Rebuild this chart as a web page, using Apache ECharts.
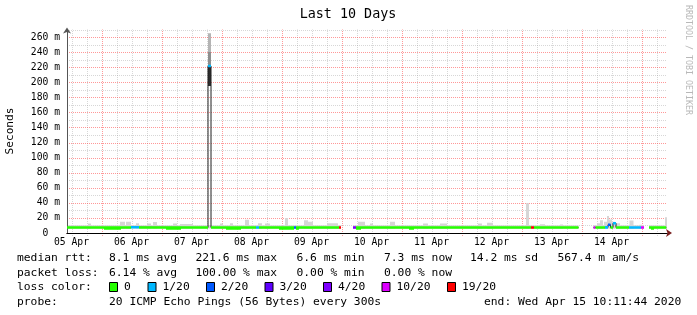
<!DOCTYPE html>
<html><head><meta charset="utf-8">
<script src="https://cdn.jsdelivr.net/npm/echarts@6/dist/echarts.min.js"></script>
<style>html,body{margin:0;padding:0;background:#fff}#c{width:697px;height:315px}</style>
</head><body><div id="c"></div>
<script>
// time axis: hours after 05 Apr 00:00
const START = 10.1956;   // 05 Apr 10:11:44
const END = 250.1956;    // 15 Apr 10:11:44
const dayLabels = ['05 Apr','06 Apr','07 Apr','08 Apr','09 Apr','10 Apr','11 Apr','12 Apr','13 Apr','14 Apr'];
const yTickValues = [0,20,40,60,80,100,120,140,160,180,200,220,240,260];
const yTickLabels = ['  0  ',' 20 m',' 40 m',' 60 m',' 80 m','100 m','120 m','140 m','160 m','180 m','200 m','220 m','240 m','260 m'];
const lossNames = ['0','1/20','2/20','3/20','4/20','10/20','19/20'];
const lossColors = ['#26ff00','#00b8ff','#0059ff','#5e00ff','#7e00ff','#dd00ff','#ff0000'];

// median rtt segments: [startHour, endHour, median ms, loss class index]
const medianSegs = [
  [10.2, 35.8, 7.2, 0], [35.8, 39.0, 7.6, 1], [39.0, 66.6, 7.2, 0],
  [66.6, 67.8, 221.6, 1], [67.8, 85.8, 7.2, 0], [85.8, 87.0, 7.2, 1],
  [87.0, 101.0, 7.2, 0], [101.0, 101.8, 7.2, 2], [101.8, 119.0, 7.2, 0],
  [119.0, 119.8, 7.2, 6],
  [124.6, 125.8, 7.2, 4], [125.8, 195.8, 7.2, 0], [195.8, 197.0, 7.2, 6],
  [197.0, 214.8, 7.2, 0],
  [220.8, 221.6, 7.2, 5], [221.6, 225.4, 7.2, 0], [225.4, 226.6, 7.4, 1],
  [226.6, 227.6, 11.0, 2], [227.6, 228.6, 7.2, 0], [228.6, 229.8, 13.0, 1],
  [229.8, 235.0, 7.2, 0], [235.0, 239.8, 7.2, 1], [239.8, 241.0, 7.2, 5],
  [243.0, 249.9, 7.2, 0]
];
// lower median excursions: [startHour, endHour, low ms]
const medianDips = [
  [25.0, 31.8, 4.2], [49.8, 55.8, 4.2], [73.8, 79.8, 4.2], [95.0, 101.0, 4.2],
  [101.8, 103.0, 4.2], [125.8, 127.8, 4.2], [147.0, 149.0, 4.2], [243.8, 245.0, 4.2]
];
// smoke (ping spread): [startHour, endHour, top ms]
const smoke = [
  [10.2, 119.8, 10.2], [124.6, 214.8, 10.2], [220.8, 241.0, 10.2], [243.0, 250.2, 10.2],
  [18.6, 19.8, 12.7], [31.4, 33.4, 15.0], [33.8, 35.8, 15.0], [37.8, 39.0, 13.0],
  [42.2, 43.8, 12.5], [44.6, 46.2, 14.6], [52.6, 54.2, 12.5], [55.4, 60.6, 11.8],
  [71.4, 72.6, 12.5], [75.4, 76.6, 13.0], [81.4, 83.0, 17.6], [86.6, 88.2, 13.0],
  [89.4, 91.4, 12.5], [97.4, 98.6, 20.0], [105.0, 106.6, 16.8], [106.6, 108.6, 15.0],
  [114.2, 118.6, 13.0], [126.6, 129.4, 15.0], [131.4, 132.6, 12.5], [139.4, 141.4, 15.0],
  [152.6, 154.6, 12.5], [159.4, 162.2, 12.5], [174.6, 176.2, 12.5], [178.2, 180.6, 13.5],
  [193.8, 195.0, 39.4], [199.4, 201.4, 11.5], [207.4, 208.6, 11.2],
  [222.2, 223.4, 13.0], [223.4, 224.6, 17.0], [225.0, 226.2, 15.0], [226.2, 227.0, 22.5],
  [227.0, 228.2, 18.0], [228.2, 229.4, 15.0], [229.8, 231.4, 13.0], [235.2, 236.8, 16.6],
  [239.2, 240.4, 11.0], [249.4, 250.2, 21.0]
];
// spike smoke: [startHour, endHour, low ms, high ms, shade index]
const spikeSmoke = [
  [66.6, 67.8, 240, 265, 0], [66.6, 67.8, 221.6, 240, 1], [66.6, 67.8, 195, 221.6, 2]
];
const shadeColors = ['#b4b4b4', '#8e8e8e', '#2e2e2e'];

const rttLabel = 'median rtt:';
const rttStats = ['8.1 ms avg','221.6 ms max','6.6 ms min','7.3 ms now','14.2 ms sd','567.4 m am/s'];
const lossLabel = 'packet loss:';
const lossStats = ['6.14 % avg','100.00 % max','0.00 % min','0.00 % now'];
const colorLabel = 'loss color:';
const probeLabel = 'probe:';
const probeText = '20 ICMP Echo Pings (56 Bytes) every 300s';
const endText = 'end: Wed Apr 15 10:11:44 2020';

// ---------- build ----------
const FONT = '"DejaVu Sans Mono", monospace';
const minorX = [], majorX = [];
for (let h = 0; h <= 264; h += 6) {
  if (h <= START || h >= END) continue;
  if (h % 24 === 0) majorX.push(h); else minorX.push(h);
}
const labelX = dayLabels.map((_, i) => 12 + 24 * i);
const minorY = [], majorY = [];
for (let v = 10; v <= 270; v += 10) { if (v % 20 === 0) majorY.push(v); else minorY.push(v); }

const lineData = [];
medianSegs.forEach((s, i) => {
  if (i > 0 && s[0] > medianSegs[i - 1][1] + 0.01) lineData.push([(s[0] + medianSegs[i - 1][1]) / 2, '-']);
  lineData.push([s[0], s[2]], [s[1], s[2]]);
});

const MIN_C = 'rgba(150,150,150,0.38)', MAJ_C = 'rgba(255,50,50,0.5)';
function rectBetween(api, x1, x2, y1, y2, style) {
  const a = api.coord([x1, y2]);
  const b = api.coord([x2, y1]);
  return { type: 'rect', shape: { x: a[0], y: a[1], width: b[0] - a[0], height: b[1] - a[1] }, style: style };
}
function gridLines(vals, dir, color) {
  return { type: 'custom', silent: true, z: 1, xAxisIndex: 0, yAxisIndex: 0, clip: false,
    data: vals.map(v => [v]),
    renderItem: (p, api) => {
      const v = api.value(0);
      let a, b;
      if (dir === 'v') { a = api.coord([v, 0]); b = api.coord([v, 270]); const x = Math.round(a[0]) + 0.5; a = [x, a[1] + 3]; b = [x, b[1]]; }
      else { a = api.coord([START, v]); b = api.coord([END, v]); const y = Math.round(a[1]) + 0.5; a = [a[0], y]; b = [b[0], y]; }
      return { type: 'line', shape: { x1: a[0], y1: a[1], x2: b[0], y2: b[1] },
               style: { stroke: color, fill: null, lineWidth: 1, lineDash: [1, 1] } };
    } };
}

const graphics = [];
function txt(x, y, s, opt) {
  graphics.push(Object.assign({ type: 'text', x: x, y: y, style: Object.assign({ text: s, font: '11.3px ' + FONT, fill: '#000', verticalAlign: 'middle', align: 'left' }, opt || {}) }));
}
graphics.push({ type: 'text', x: 348, y: 15, style: { text: 'Last 10 Days', font: '13.4px ' + FONT, fill: '#000', align: 'center', verticalAlign: 'middle' } });
graphics.push({ type: 'text', x: 10, y: 131, rotation: Math.PI / 2, style: { text: 'Seconds', font: '11.1px ' + FONT, fill: '#000', align: 'center', verticalAlign: 'middle' } });
graphics.push({ type: 'text', x: 688, y: 5, rotation: -Math.PI / 2, style: { text: 'RRDTOOL / TOBI OETIKER', font: '8.3px ' + FONT, fill: '#b8b8b8', align: 'left', verticalAlign: 'middle' } });
const colX = [109, 195.5, 296.5, 384, 470, 557.5];
txt(17, 258.5, rttLabel);
rttStats.forEach((s, i) => txt(colX[i], 258.5, s));
txt(17, 273, lossLabel);
lossStats.forEach((s, i) => txt(colX[i], 273, s));
txt(17, 287.5, colorLabel);
const boxX = [109, 147.5, 206, 264.5, 323, 381.5, 447];
lossNames.forEach((n, i) => {
  graphics.push({ type: 'rect', shape: { x: boxX[i] + 0.5, y: 282.5, width: 8, height: 9 }, style: { fill: lossColors[i], stroke: '#000', lineWidth: 1 } });
  txt(boxX[i] + 15, 287.5, n);
});
txt(17, 302, probeLabel);
txt(109, 302, probeText);
txt(484, 302, endText);

const option = {
  animation: false,
  backgroundColor: '#ffffff',
  grid: { left: 67, top: 29.5, width: 600, height: 203.5, containLabel: false, outerBoundsMode: 'none' },
  xAxis: [
    { type: 'value', min: START, max: END, position: 'bottom', z: 3,
      axisLine: { show: true, onZero: false, lineStyle: { color: '#000', width: 1 } },
      axisTick: { show: false }, splitLine: { show: false },
      axisLabel: { show: true, customValues: labelX, margin: 4, color: '#000', fontFamily: FONT, fontSize: 9.7,
                   formatter: v => dayLabels[Math.round((v - 12) / 24)] } },
    { type: 'value', min: START, max: END, position: 'bottom', z: 2,
      axisLine: { show: true, onZero: false, symbol: ['none', 'arrow'], symbolSize: [6, 6], symbolOffset: [0, 5], lineStyle: { color: '#7a1f1f', width: 1 } },
      axisTick: { show: false }, splitLine: { show: false }, axisLabel: { show: false } }
  ],
  yAxis: [
    { type: 'value', min: 0, max: 270, position: 'left', z: 3,
      axisLine: { show: true, onZero: false, symbol: ['none', 'arrow'], symbolSize: [6, 6], symbolOffset: [0, 2], lineStyle: { color: '#555' } },
      axisTick: { show: false }, splitLine: { show: false },
      axisLabel: { show: true, customValues: yTickValues, margin: 7, color: '#000', fontFamily: FONT, fontSize: 9.7, align: 'right',
                   formatter: v => yTickLabels[yTickValues.indexOf(v)] } }
  ],
  series: [
    gridLines(minorY, 'h', MIN_C),
    gridLines(minorX, 'v', MIN_C),
    gridLines(majorY, 'h', MAJ_C),
    gridLines(majorX, 'v', MAJ_C),
    { type: 'custom', name: 'smoke', xAxisIndex: 0, yAxisIndex: 0, z: 2, clip: true, silent: true,
      encode: { x: [0, 1], y: 2 }, data: smoke,
      renderItem: (p, api) => rectBetween(api, api.value(0), api.value(1), 6, api.value(2), { fill: '#d6d6d6' }) },
    { type: 'custom', name: 'spike smoke', xAxisIndex: 0, yAxisIndex: 0, z: 2, clip: true, silent: true,
      encode: { x: [0, 1], y: [2, 3] }, data: spikeSmoke,
      renderItem: (p, api) => rectBetween(api, api.value(0), api.value(1), api.value(2), api.value(3), { fill: shadeColors[api.value(4)] }) },
    { type: 'line', name: 'median', xAxisIndex: 0, yAxisIndex: 0, z: 3, silent: true, showSymbol: false, connectNulls: false,
      data: lineData, lineStyle: { color: '#202020', width: 1 } },
    { type: 'custom', name: 'median low', xAxisIndex: 0, yAxisIndex: 0, z: 4, clip: true, silent: true,
      encode: { x: [0, 1], y: 2 }, data: medianDips,
      renderItem: (p, api) => rectBetween(api, api.value(0), api.value(1), api.value(2), 7.2, { fill: lossColors[0] }) },
    { type: 'custom', name: 'median loss', xAxisIndex: 0, yAxisIndex: 0, z: 5, clip: true, silent: true,
      encode: { x: [0, 1], y: 2 }, data: medianSegs,
      renderItem: (p, api) => {
        const a = api.coord([api.value(0), api.value(2)]);
        const b = api.coord([api.value(1), api.value(2)]);
        return { type: 'rect', shape: { x: a[0], y: a[1] - 1.3, width: b[0] - a[0], height: 2.6 }, style: { fill: lossColors[api.value(3)] } };
      } }
  ],
  graphic: graphics
};
const chart = echarts.init(document.getElementById('c'), null, { renderer: 'canvas' });
chart.setOption(option);
</script></body></html>
